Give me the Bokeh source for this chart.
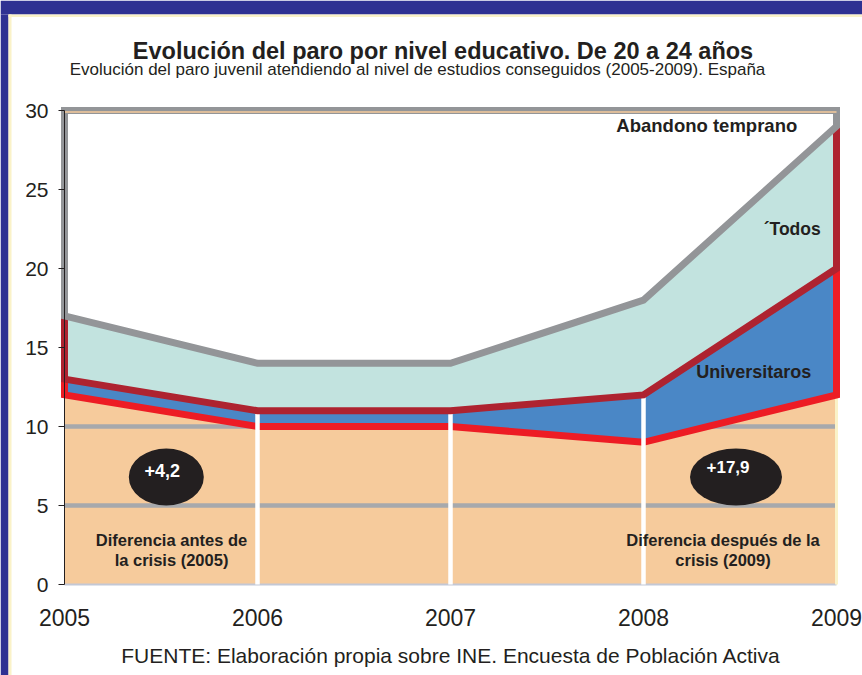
from bokeh.plotting import figure
from bokeh.models import Range1d, Label, FixedTicker
from bokeh.embed import file_html
from bokeh.resources import INLINE

# ---- data ----
years = [2005, 2006, 2007, 2008, 2009]
abandono = [17, 14, 14, 18, 29]
todos = [13, 11, 11, 12, 20]
universitarios = [12, 10, 10, 9, 12]
y_ticks = [0, 5, 10, 15, 20, 25, 30]
ymax = 30

title_txt = "Evolución del paro por nivel educativo. De 20 a 24 años"
subtitle_txt = "Evolución del paro juvenil atendiendo al nivel de estudios conseguidos (2005-2009). España"
source_txt = "FUENTE: Elaboración propia sobre INE. Encuesta de Población Activa"

FONT = "Liberation Sans"
PEACH = "#F6CB9C"
BLUE = "#4A87C6"
TEAL = "#C2E3DF"
GRAY = "#939598"
DARKRED = "#AE2330"
RED = "#ED1C24"
GRID = "#A7A9AC"
TXT = "#231F20"
NAVY = "#2E3192"
CREAM = "#FAF2C8"

W, H = 862, 675
# layout: pixel position of the axes origin and scale
X0PX, Y0PX, PX_PER_YEAR, PX_PER_UNIT = 64, 584, 193.0, 15.8


def X(px):
    return years[0] + (px - X0PX) / PX_PER_YEAR


def Y(py):
    return (Y0PX - py) / PX_PER_UNIT


p = figure(width=W, height=H, output_backend="svg", toolbar_location=None,
           title_location=None,
           x_range=Range1d(X(0), X(W)), y_range=Range1d(Y(H), Y(0)),
           min_border=0, min_border_left=0, min_border_right=0,
           min_border_top=0, min_border_bottom=0)
p.outline_line_color = None
p.xgrid.grid_line_color = None
p.ygrid.grid_line_color = None
p.background_fill_color = "white"
p.border_fill_color = "white"

# page frame decoration
p.quad(left=[X(0)], right=[X(W)], top=[Y(0)], bottom=[Y(14)], fill_color=NAVY, line_color=None)
p.quad(left=[X(0)], right=[X(8)], top=[Y(14)], bottom=[Y(H)], fill_color=NAVY, line_color=None)
p.quad(left=[X(8)], right=[X(W)], top=[Y(14)], bottom=[Y(16.5)], fill_color=CREAM, line_color=None)
p.quad(left=[X(8)], right=[X(11)], top=[Y(14)], bottom=[Y(H)], fill_color=CREAM, line_color=None)

# y axis
p.yaxis.fixed_location = years[0]
p.yaxis.ticker = FixedTicker(ticks=y_ticks)
p.yaxis.bounds = (0, ymax)
p.yaxis.major_tick_out = 6
p.yaxis.major_tick_in = 0
p.yaxis.minor_tick_line_color = None
p.yaxis.axis_line_color = TXT
p.yaxis.major_tick_line_color = TXT
p.yaxis.major_label_text_font = FONT
p.yaxis.major_label_text_font_size = "21px"
p.yaxis.major_label_text_color = TXT
p.yaxis.major_label_standoff = 10

# x axis
p.xaxis.fixed_location = 0
p.xaxis.ticker = FixedTicker(ticks=years)
p.xaxis.bounds = (years[0], years[-1])
p.xaxis.major_tick_out = 0
p.xaxis.major_tick_in = 0
p.xaxis.minor_tick_line_color = None
p.xaxis.axis_line_color = None
p.xaxis.major_label_text_font = FONT
p.xaxis.major_label_text_font_size = "23px"
p.xaxis.major_label_text_color = TXT
p.xaxis.major_label_standoff = 24

zeros = [0] * len(years)
tops = [ymax] * len(years)

# peach (below universitarios)
p.varea(x=years, y1=zeros, y2=universitarios, fill_color=PEACH)
# horizontal grid lines
grid_ticks = [t for t in y_ticks if 0 < t < ymax]
p.segment(x0=[years[0]] * len(grid_ticks), x1=[years[-1]] * len(grid_ticks),
          y0=grid_ticks, y1=grid_ticks, line_color=GRID, line_width=4.5)
# blue, teal, white areas
p.varea(x=years, y1=universitarios, y2=todos, fill_color=BLUE)
p.varea(x=years, y1=todos, y2=abandono, fill_color=TEAL)
p.varea(x=years, y1=abandono, y2=tops, fill_color="white")
# baseline and right edge
p.line([years[0], years[-1]], [0, 0], line_color="#C3C8D5", line_width=2)
p.segment(x0=[years[-1]], x1=[years[-1]], y0=[0], y1=[universitarios[-1]],
          line_color=CREAM, line_width=3)

# bright red line (universitarios)
p.line([years[0]] + years + [years[-1]], [todos[0]] + universitarios + [todos[-1]],
       line_color=RED, line_width=7, line_join="miter")
# white vertical year lines
inner = years[1:-1]
p.segment(x0=inner, x1=inner, y0=[0] * len(inner), y1=todos[1:-1], line_color="white", line_width=4.5)
# dark red line (todos)
p.line([years[0]] + years + [years[-1]], [abandono[0]] + todos + [abandono[-1]],
       line_color=DARKRED, line_width=7, line_join="miter")
# gray outline (abandono + top)
p.patch(years + [years[-1], years[0]], abandono + [ymax, ymax], fill_alpha=0,
        line_color=GRAY, line_width=7, line_join="miter")
p.line([years[0], years[-1]], [ymax - 1.5 / PX_PER_UNIT] * 2, line_color=PEACH, line_width=1.5)

# ellipses
p.ellipse(x=[X(165.8), X(735.5)], y=[Y(476.5), Y(476.5)],
          width=[75 / PX_PER_YEAR, 92 / PX_PER_YEAR], height=[57 / PX_PER_UNIT] * 2,
          fill_color=TXT, line_color=None)


def lab(px, py, t, size, bold=True, color=TXT):
    p.add_layout(Label(x=X(px), y=Y(py), text=t, text_font=FONT, text_font_size=size,
                       text_font_style="bold" if bold else "normal", text_color=color,
                       text_align="center", text_baseline="alphabetic"))


lab(161.7, 469.7, "+4,2", "18px", color="white")
lab(727.5, 466.5, "+17,9", "17px", color="white")
lab(171, 539, "Diferencia antes de", "16.5px")
lab(171, 559, "la crisis (2005)", "16.5px")
lab(722.5, 539, "Diferencia después de la", "16.5px")
lab(722.5, 559, "crisis (2009)", "16.5px")
lab(706.3, 125, "Abandono temprano", "18.5px")
lab(791.7, 228.3, "´Todos", "17.5px")
lab(753.3, 371.7, "Universitaros", "18px")

lab(442.5, 50.7, title_txt, "23.5px")
lab(417, 69, subtitle_txt, "17px", bold=False)
lab(450.5, 655, source_txt, "21px", bold=False)

open("out.html", "w").write(file_html(p, INLINE))
